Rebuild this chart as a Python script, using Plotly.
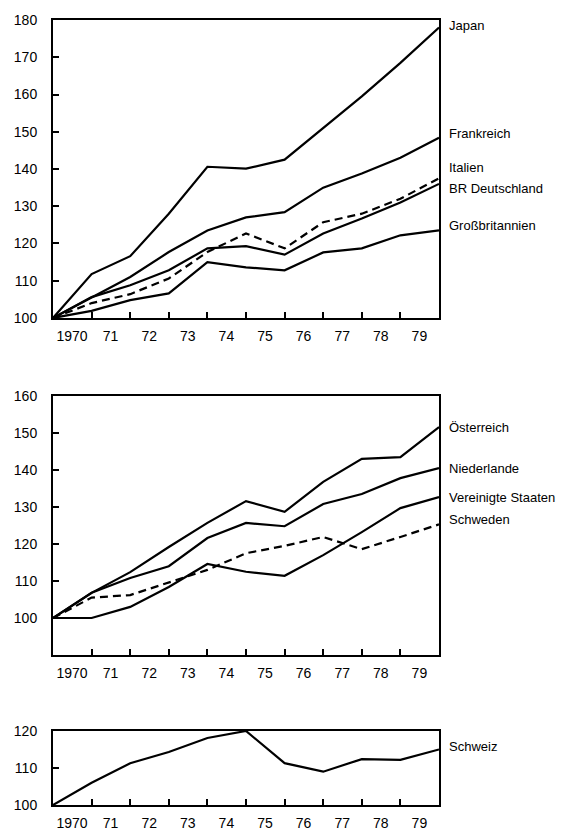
import plotly.graph_objects as go

# ---------------- data ----------------
x_idx = [0, 1, 2, 3, 4, 5, 6, 7, 8, 9, 10]
tick_pos = [0, 1, 2, 3, 4, 5, 6, 7, 8, 9]
tick_labels = ["1970", "71", "72", "73", "74", "75", "76", "77", "78", "79"]

# panel 1
japan = [100, 111.8, 116.6, 128.0, 140.6, 140.1, 142.5, 151.0, 159.5, 168.5, 178.0]
frankreich = [100, 105.6, 111.0, 117.7, 123.5, 127.0, 128.4, 135.0, 138.8, 143.0, 148.4]
italien = [100, 104.0, 106.4, 110.6, 117.7, 122.7, 118.7, 125.7, 128.0, 132.0, 137.5]
br_deutschland = [100, 105.6, 108.8, 112.8, 118.7, 119.3, 117.0, 122.7, 126.7, 131.0, 136.0]
grossbritannien = [100, 101.9, 104.8, 106.6, 115.0, 113.6, 112.8, 117.6, 118.7, 122.2, 123.5]

# panel 2
oesterreich = [100, 106.8, 112.4, 119.2, 125.7, 131.6, 128.7, 136.8, 143.0, 143.5, 151.6]
niederlande = [100, 106.8, 110.8, 114.0, 121.6, 125.7, 124.8, 130.8, 133.5, 137.8, 140.5]
vereinigte_staaten = [100, 100.0, 103.0, 108.4, 114.6, 112.5, 111.4, 117.0, 123.2, 129.7, 132.7]
schweden = [100, 105.5, 106.2, 109.5, 113.0, 117.5, 119.5, 121.9, 118.6, 121.9, 125.3]

# panel 3
schweiz = [100, 106.0, 111.3, 114.3, 118.1, 120.0, 111.3, 109.0, 112.4, 112.2, 115.0]

# labels at right edge (text, y position in data units)
labels_p1 = ["Japan", "Frankreich", "Italien", "BR Deutschland", "Großbritannien"]
labels_p1_y = [178.6, 149.5, 140.4, 134.8, 124.8]
labels_p2 = ["Österreich", "Niederlande", "Vereinigte Staaten", "Schweden"]
labels_p2_y = [151.6, 140.5, 132.7, 126.5]
labels_p3 = ["Schweiz"]
labels_p3_y = [115.7]

# ---------------- figure ----------------
fig = go.Figure()

def add_line(y, xa, ya, dashed=False):
    fig.add_trace(go.Scatter(
        x=x_idx, y=y, xaxis=xa, yaxis=ya, mode="lines",
        line=dict(color="black", width=2.2, dash="8px,5px" if dashed else "solid"),
        hoverinfo="skip", showlegend=False))

add_line(japan, "x", "y")
add_line(frankreich, "x", "y")
add_line(italien, "x", "y", dashed=True)
add_line(br_deutschland, "x", "y")
add_line(grossbritannien, "x", "y")

add_line(oesterreich, "x2", "y2")
add_line(niederlande, "x2", "y2")
add_line(vereinigte_staaten, "x2", "y2")
add_line(schweden, "x2", "y2", dashed=True)

add_line(schweiz, "x3", "y3")

tickfont = dict(family="Liberation Sans, Arial, sans-serif", size=14, color="black")

def xax(anchor):
    return dict(anchor=anchor, domain=[0, 1], range=[0, 10],
                tickmode="array", tickvals=tick_pos, ticktext=tick_labels,
                ticks="inside", ticklen=6, tickwidth=1.5, tickcolor="black",
                showline=True, mirror=True, linewidth=2, linecolor="black",
                showgrid=False, zeroline=False, tickfont=tickfont, automargin=False,
                ticklabelshift=19, ticklabelstandoff=4, fixedrange=True)

def yax(anchor, domain, rng, vals):
    return dict(anchor=anchor, domain=domain, range=rng,
                tickmode="array", tickvals=vals,
                ticks="inside", ticklen=6, tickwidth=1.5, tickcolor="black",
                showline=True, mirror=True, linewidth=2, linecolor="black",
                showgrid=False, zeroline=False, tickfont=tickfont, automargin=False,
                ticklabelstandoff=11, fixedrange=True)

annotations = []
def add_labels(texts, ys, yref):
    for t, yv in zip(texts, ys):
        annotations.append(dict(
            x=1, xref="paper", y=yv, yref=yref, text=t, showarrow=False,
            xanchor="left", yanchor="middle", xshift=8,
            font=dict(family="Liberation Sans, Arial, sans-serif", size=13, color="black")))

add_labels(labels_p1, labels_p1_y, "y")
add_labels(labels_p2, labels_p2_y, "y2")
add_labels(labels_p3, labels_p3_y, "y3")

fig.update_layout(
    width=564, height=835,
    margin=dict(l=45, r=133, t=12, b=38),
    paper_bgcolor="white", plot_bgcolor="white",
    showlegend=False,
    xaxis=xax("y"),
    yaxis=yax("x", [0.6204, 1.0], [100, 180], [100, 110, 120, 130, 140, 150, 160, 170, 180]),
    xaxis2=xax("y2"),
    yaxis2=yax("x2", [0.1911, 0.5210], [90, 160], [100, 110, 120, 130, 140, 150, 160]),
    xaxis3=xax("y3"),
    yaxis3=yax("x3", [0.0, 0.0943], [100, 120], [100, 110, 120]),
    annotations=annotations,
)

fig.write_html("out.html")
